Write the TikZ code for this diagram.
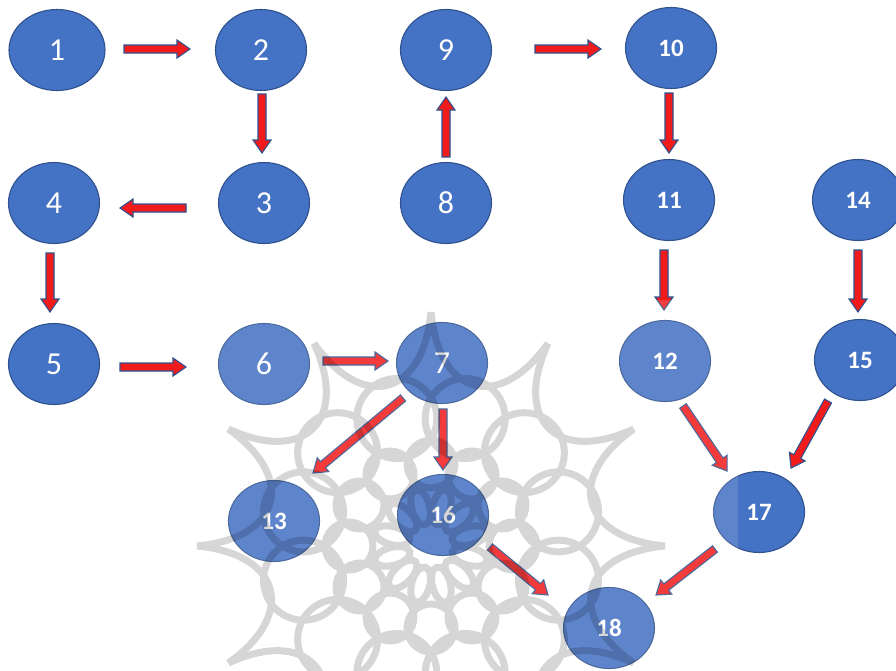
\documentclass[tikz,border=0pt]{standalone}
\usepackage{fontspec}
\setmainfont{Carlito}
\usetikzlibrary{shapes.geometric,calc}
\definecolor{nodeblue}{HTML}{4472C4}
\definecolor{edgeblue}{HTML}{2F528F}
\definecolor{arrowred}{HTML}{F21B1B}
\tikzset{
  state/.style={ellipse, fill=nodeblue, draw=edgeblue, line width=1.1pt,
    minimum width=91pt, minimum height=81pt, inner sep=0pt, text=white,
    font=\fontsize{32}{32}\selectfont},
  bstate/.style={state, font=\fontsize{25}{25}\selectfont\bfseries},
  blockarrow/.style={fill=arrowred, draw=edgeblue, line width=1.1pt, line join=miter},
  wm/.style={draw=black, line width=7pt},
}
\newcommand\blkarrow[2]{%
  \coordinate (bah) at ($(#2)!13pt!(#1)$);
  \path[blockarrow] ($(#1)!4pt!90:(#2)$) -- ($(bah)!4pt!-90:(#1)$)
    -- ($(bah)!9pt!-90:(#1)$) -- (#2) -- ($(bah)!9pt!90:(#1)$)
    -- ($(bah)!4pt!90:(#1)$) -- ($(#1)!4pt!-90:(#2)$) -- cycle;
}
\begin{document}
\begin{tikzpicture}[x=1pt,y=-1pt]
\useasboundingbox (0,0) rectangle (896,670);
\fill[white] (0,0) rectangle (896,670);
% nodes
\node[state, minimum width=96pt] (n1) at (57,50) {1};
\node[state] (n2) at (261,50) {2};
\node[state] (n9) at (446,50) {9};
\node[bstate] (n10) at (671,48) {10};
\node[state] (n3) at (264,203) {3};
\node[state] (n4) at (54,203) {4};
\node[state] (n8) at (446,203) {8};
\node[bstate] (n11) at (669,200) {11};
\node[bstate] (n14) at (858,200) {14};
\node[state] (n5) at (54,364) {5};
\node[state] (n6) at (264,364) {6};
\node[state] (n7) at (442,363) {7};
\node[bstate] (n12) at (665,361) {12};
\node[bstate] (n15) at (860,360) {15};
\node[bstate] (n13) at (274,521) {13};
\node[bstate] (n16) at (443,515) {16};
\node[bstate] (n17) at (759,512) {17};
\node[bstate] (n18) at (609,628) {18};
% arrow end points
\coordinate (a1s) at (124,49);  \coordinate (a1e) at (190,49);
\coordinate (a2s) at (262,94);  \coordinate (a2e) at (262,153);
\coordinate (a3s) at (186,208); \coordinate (a3e) at (120,208);
\coordinate (a4s) at (50,253);  \coordinate (a4e) at (50,312);
\coordinate (a5s) at (120,367); \coordinate (a5e) at (186,367);
\coordinate (a6s) at (323,361); \coordinate (a6e) at (388,361);
\coordinate (a8s) at (446,157); \coordinate (a8e) at (446,97);
\coordinate (a9s) at (535,49);  \coordinate (a9e) at (601,49);
\coordinate (a10s) at (669,93); \coordinate (a10e) at (669,153);
\coordinate (a11s) at (664,250); \coordinate (a11e) at (664,310);
\coordinate (a14s) at (858,250); \coordinate (a14e) at (858,312);
\coordinate (a7as) at (403,398); \coordinate (a7ae) at (313,473);
\coordinate (a7bs) at (443,409); \coordinate (a7be) at (443,470);
\coordinate (a12s) at (683,406); \coordinate (a12e) at (727,471);
\coordinate (a15s) at (828,401); \coordinate (a15e) at (791,468);
\coordinate (a16s) at (490,547); \coordinate (a16e) at (548,595);
\coordinate (a17s) at (715,549); \coordinate (a17e) at (656,595);
\blkarrow{a1s}{a1e}
\blkarrow{a2s}{a2e}
\blkarrow{a3s}{a3e}
\blkarrow{a4s}{a4e}
\blkarrow{a5s}{a5e}
\blkarrow{a6s}{a6e}
\blkarrow{a8s}{a8e}
\blkarrow{a9s}{a9e}
\blkarrow{a10s}{a10e}
\blkarrow{a11s}{a11e}
\blkarrow{a14s}{a14e}
\blkarrow{a7as}{a7ae}
\blkarrow{a7bs}{a7be}
\blkarrow{a12s}{a12e}
\blkarrow{a15s}{a15e}
\blkarrow{a16s}{a16e}
\blkarrow{a17s}{a17e}
% watermark
\fill[white, fill opacity=0.14] (200,300) rectangle (738,670);
\begin{scope}[transparency group, opacity=0.16, shift={(431,546)}]
  \foreach \a in {0,30,...,330} {
    \draw[wm] (\a:234) .. controls (\a+3:150) and (\a+27:150) .. (\a+30:234);
    \draw[wm] (\a+15:132) circle[radius=40pt];
    \draw[wm] (\a:82) circle[radius=24pt];
    \draw[wm, rotate=\a+15] (40,0) ellipse[x radius=18pt, y radius=9pt];
  }
\end{scope}
\end{tikzpicture}
\end{document}
